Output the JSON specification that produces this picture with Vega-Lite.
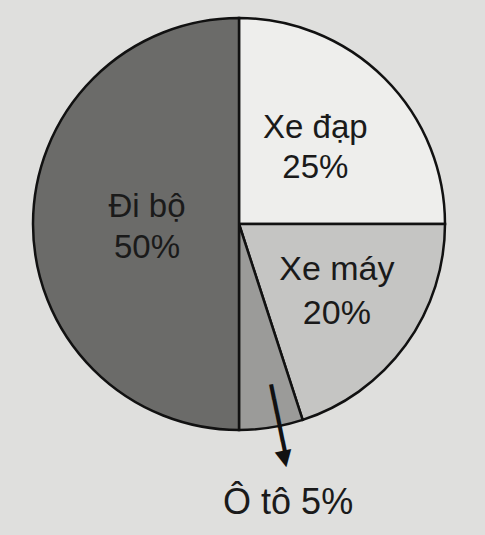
{
  "$schema": "https://vega.github.io/schema/vega-lite/v6.json",
  "autosize": "none",
  "width": 478,
  "height": 448,
  "padding": {"left": 0, "top": 0, "right": 7, "bottom": 87},
  "background": "#dfdfdd",
  "config": {"view": {"stroke": null}},
  "data": {"values": [
    {"ten": "Xe đạp", "ty_le": 25, "thu_tu": 1, "nhan": "Xe đạp\n25%"},
    {"ten": "Xe máy", "ty_le": 20, "thu_tu": 2, "nhan": "Xe máy\n20%"},
    {"ten": "Ô tô", "ty_le": 5, "thu_tu": 3, "nhan": "Ô tô 5%"},
    {"ten": "Đi bộ", "ty_le": 50, "thu_tu": 4, "nhan": "Đi bộ\n50%"}
  ]},
  "encoding": {
    "theta": {"field": "ty_le", "type": "quantitative", "stack": true},
    "order": {"field": "thu_tu", "type": "quantitative"}
  },
  "layer": [
    {
      "mark": {"type": "arc", "outerRadius": 206, "stroke": "#111111", "strokeWidth": 2.5},
      "encoding": {
        "color": {"field": "ten", "type": "nominal",
          "scale": {"domain": ["Xe đạp", "Xe máy", "Ô tô", "Đi bộ"], "range": ["#eeeeec", "#c5c5c3", "#9b9b99", "#6b6b69"]},
          "legend": null}
      }
    },
    {
      "mark": {"type": "text", "radius": 108, "dy": -20, "fontSize": 33, "lineBreak": "\n", "lineHeight": 40, "font": "Liberation Sans", "fill": "#1a1a1a"},
      "encoding": {"text": {"field": "nhan", "type": "nominal", "condition": {"test": "datum.ten !== 'Xe đạp'", "value": ""}}}
    },
    {
      "mark": {"type": "text", "radius": 121, "dy": -25, "fontSize": 34, "lineBreak": "\n", "lineHeight": 44, "font": "Liberation Sans", "fill": "#1a1a1a"},
      "encoding": {"text": {"field": "nhan", "type": "nominal", "condition": {"test": "datum.ten !== 'Xe máy'", "value": ""}}}
    },
    {
      "mark": {"type": "text", "radius": 92, "dy": -17, "fontSize": 33, "lineBreak": "\n", "lineHeight": 41, "font": "Liberation Sans", "fill": "#1a1a1a"},
      "encoding": {"text": {"field": "nhan", "type": "nominal", "condition": {"test": "datum.ten !== 'Đi bộ'", "value": ""}}}
    },
    {
      "mark": {"type": "text", "radius": 282, "dx": 5, "fontSize": 36, "font": "Liberation Sans", "fill": "#1a1a1a"},
      "encoding": {"text": {"field": "nhan", "type": "nominal", "condition": {"test": "datum.ten !== 'Ô tô'", "value": ""}}}
    },
    {
      "mark": {"type": "text", "radius": 200, "thetaOffset": -0.035, "angle": 78.5, "fontSize": 24, "fontWeight": "bold", "font": "DejaVu Sans Mono", "fill": "#111111"},
      "encoding": {"text": {"condition": {"test": "datum.ten === 'Ô tô'", "value": "━━━━━"}, "value": ""}}
    },
    {
      "mark": {"type": "text", "radius": 238, "thetaOffset": -0.035, "angle": 348.5, "fontSize": 22, "font": "DejaVu Sans", "fill": "#111111"},
      "encoding": {"text": {"condition": {"test": "datum.ten === 'Ô tô'", "value": "▼"}, "value": ""}}
    }
  ]
}
